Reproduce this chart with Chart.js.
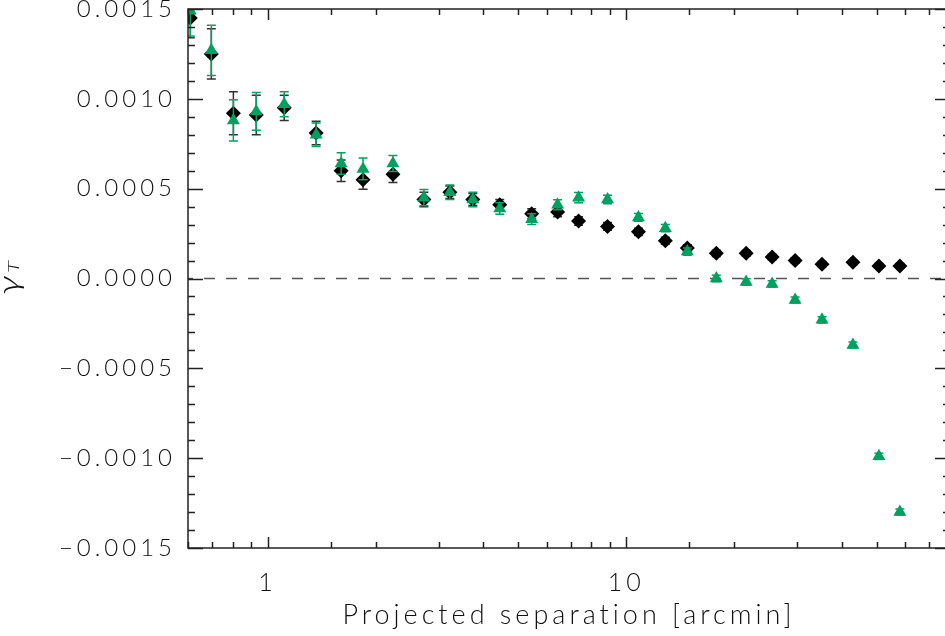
<!DOCTYPE html>
<html><head><meta charset="utf-8">
<script src="https://cdn.jsdelivr.net/npm/chart.js@4/dist/chart.umd.min.js"></script>
<style>html,body{margin:0;padding:0;background:#fff;overflow:hidden;width:945px;height:636px}#wrap{width:950px;height:636px;position:relative}</style>
</head><body><div id="wrap"><canvas id="c"></canvas></div>
<script>
// ---- data ----
const separation = [0.609, 0.697, 0.803, 0.930, 1.113, 1.366, 1.604, 1.846, 2.237, 2.729, 3.224, 3.736, 4.441, 5.452, 6.440, 7.367, 8.872, 10.82, 12.86, 14.81, 17.84, 21.61, 25.53, 29.59, 35.17, 42.90, 50.68, 57.98];
const gammaBlack = [0.00145, 0.00125, 0.00092, 0.00091, 0.00095, 0.00081, 0.00060, 0.00055, 0.00058, 0.00044, 0.00048, 0.00044, 0.00041, 0.00036, 0.00037, 0.00032, 0.00029, 0.00026, 0.00021, 0.00017, 0.00014, 0.00014, 0.00012, 0.00010, 0.00008, 0.00009, 0.00007, 0.00007];
const errBlack = [0.00011, 0.00014, 0.00012, 0.00011, 0.00007, 0.000065, 0.00006, 0.000053, 0.000045, 0.00004, 0.000035, 0.000033, 0.00003, 0.000028, 0.000026, 0.000024, 0.000022, 0.00002, 0.00002, 0.000018, 0.000017, 0.000016, 0.000015, 0.000015, 0.000014, 0.000014, 0.000013, 0.000013];
const gammaGreen = [0.00149, 0.00127, 0.00088, 0.00093, 0.00097, 0.00080, 0.00064, 0.00061, 0.00064, 0.00045, 0.00048, 0.00044, 0.00039, 0.00033, 0.00041, 0.00045, 0.00044, 0.00034, 0.00028, 0.00015, 0.00000, -0.00002, -0.00003, -0.00012, -0.00023, -0.00037, -0.00099, -0.00130];
const errGreen = [0.00014, 0.00014, 0.000115, 0.000105, 0.00007, 0.000065, 0.00006, 0.00006, 0.000045, 0.000045, 0.00004, 0.00004, 0.000032, 0.00003, 0.000028, 0.000028, 0.000024, 0.000022, 0.00002, 0.00002, 0.000018, 0.000018, 0.000018, 0.000017, 0.000017, 0.000017, 0.000017, 0.000017];
const xTickLabels = [1, 10];
const xRange = [0.6, 80];
const yRange = [-0.0015, 0.0015];
const yMajorStep = 0.0005;
const yMinorStep = 0.0001;
const xTitle = 'Projected separation [arcmin]';
const yTitleMain = 'γ';
const yTitleSub = 'T';

const GREEN = '#00a060';
const LABEL_FONT = 'Lato';

function toPoints(xs, ys) { return xs.map((x, i) => ({x: x, y: ys[i]})); }

const errorBarPlugin = {
  id: 'errbars',
  beforeDatasetDraw(chart, args) {
    const ds = chart.data.datasets[args.index];
    if (!ds.errors) return;
    const xs = chart.scales.x, ys = chart.scales.y, ctx = chart.ctx, a = chart.chartArea;
    ctx.save();
    ctx.beginPath(); ctx.rect(a.left, a.top, a.right - a.left, a.bottom - a.top); ctx.clip();
    ctx.strokeStyle = ds.errorColor; ctx.lineWidth = 1.5;
    ds.data.forEach((p, i) => {
      const px = xs.getPixelForValue(p.x);
      const y1 = ys.getPixelForValue(p.y + ds.errors[i]);
      const y2 = ys.getPixelForValue(p.y - ds.errors[i]);
      ctx.beginPath();
      ctx.moveTo(px, y1); ctx.lineTo(px, y2);
      ctx.moveTo(px - 4.5, y1); ctx.lineTo(px + 4.5, y1);
      ctx.moveTo(px - 4.5, y2); ctx.lineTo(px + 4.5, y2);
      ctx.stroke();
    });
    ctx.restore();
  }
};

const framePlugin = {
  id: 'frame',
  beforeDraw(chart) { chart.ctx.letterSpacing = '4px'; },
  beforeDatasetsDraw(chart) {
    const ctx = chart.ctx, a = chart.chartArea, ys = chart.scales.y;
    const y0 = ys.getPixelForValue(0);
    ctx.save();
    ctx.strokeStyle = '#555'; ctx.lineWidth = 1.5; ctx.setLineDash([11, 11]); ctx.lineDashOffset = 6;
    ctx.beginPath(); ctx.moveTo(a.left, y0); ctx.lineTo(a.right, y0); ctx.stroke();
    ctx.restore();
  },
  afterDraw(chart) {
    const ctx = chart.ctx, a = chart.chartArea, xs = chart.scales.x, ys = chart.scales.y;
    ctx.save();
    ctx.letterSpacing = '0px';
    ctx.strokeStyle = '#222'; ctx.lineWidth = 1.5;
    ctx.strokeRect(a.left, a.top, a.right - a.left, a.bottom - a.top);
    ctx.beginPath();
    const nMin = Math.round((yRange[1] - yRange[0]) / yMinorStep);
    for (let k = 0; k <= nMin; k++) {
      const v = yRange[0] + k * yMinorStep;
      const major = Math.abs(v / yMajorStep - Math.round(v / yMajorStep)) < 1e-6;
      const len = major ? 15 : 7;
      const py = Math.round(ys.getPixelForValue(v)) + 0.5;
      ctx.moveTo(a.left, py); ctx.lineTo(a.left + len, py);
      ctx.moveTo(a.right, py); ctx.lineTo(a.right - len, py);
    }
    xs.ticks.forEach(t => {
      const v = t.value;
      const lg = Math.log10(v);
      const major = Math.abs(lg - Math.round(lg)) < 1e-9;
      const len = major ? 11 : 6;
      const px = Math.round(xs.getPixelForValue(v)) + 0.5;
      ctx.moveTo(px, a.bottom); ctx.lineTo(px, a.bottom - len);
      ctx.moveTo(px, a.top); ctx.lineTo(px, a.top + len);
    });
    ctx.stroke();
    // y title gamma_T
    ctx.fillStyle = '#111';
    ctx.translate(19, 295);
    ctx.rotate(-Math.PI / 2);
    ctx.textBaseline = 'alphabetic';
    ctx.save();
    ctx.scale(1.3, 1);
    ctx.font = 'italic 300 30px Lato';
    ctx.fillText(yTitleMain, 0, 0);
    const w = ctx.measureText(yTitleMain).width * 1.3;
    ctx.restore();
    ctx.save();
    ctx.scale(1.4, 1);
    ctx.font = 'italic 300 16px Lato';
    ctx.fillText(yTitleSub, (w + 3) / 1.4, 0);
    ctx.restore();
    ctx.restore();
  }
};

const fmtY = v => {
  if (Math.abs(v) < 1e-12) return '0.0000';
  return (v < 0 ? '\u2212' : '') + Math.abs(v).toFixed(4);
};
const noPad = (s) => { s.paddingTop = 0; s.paddingBottom = 0; s.paddingLeft = 0; s.paddingRight = 0; };

new Chart(document.getElementById('c'), {
  type: 'scatter',
  data: {
    datasets: [
      { label: 'black', order: 1, data: toPoints(separation, gammaBlack), errors: errBlack, errorColor: '#333',
        pointStyle: 'rectRot', pointRadius: 7.5, pointHoverRadius: 7.5, backgroundColor: '#000', borderColor: '#000', borderWidth: 0, clip: 0 },
      { label: 'green', order: 0, data: toPoints(separation, gammaGreen), errors: errGreen, errorColor: GREEN,
        pointStyle: 'triangle', pointRadius: 7.5, pointHoverRadius: 7.5, backgroundColor: GREEN, borderColor: GREEN, borderWidth: 0, clip: 0 }
    ]
  },
  options: {
    responsive: true, maintainAspectRatio: false, animation: false,
    events: [],
    layout: { autoPadding: false, padding: { left: 0, right: 0, top: 9, bottom: 0 } },
    plugins: { legend: { display: false }, tooltip: { enabled: false } },
    scales: {
      x: {
        type: 'logarithmic', min: xRange[0], max: xRange[1], position: 'bottom',
        grid: { display: false, drawTicks: false }, border: { display: false },
        ticks: { autoSkip: false, maxRotation: 0, minRotation: 0, padding: 20, color: '#111',
          font: { family: LABEL_FONT, size: 25, weight: 300 },
          callback: (v) => xTickLabels.includes(v) ? String(v) : '' },
        title: { display: true, text: xTitle, color: '#111', font: { family: LABEL_FONT, size: 27, weight: 300 }, padding: { top: 0, bottom: 5 } },
        afterFit: (s) => { s.height = 88; noPad(s); }
      },
      y: {
        type: 'linear', min: yRange[0], max: yRange[1], position: 'left',
        grid: { display: false, drawTicks: false }, border: { display: false },
        ticks: { stepSize: yMajorStep, padding: 12, color: '#111',
          font: { family: LABEL_FONT, size: 24, weight: 300 }, callback: fmtY },
        afterFit: (s) => { s.width = 188; noPad(s); }
      }
    }
  },
  plugins: [errorBarPlugin, framePlugin]
});
</script>
</body></html>
